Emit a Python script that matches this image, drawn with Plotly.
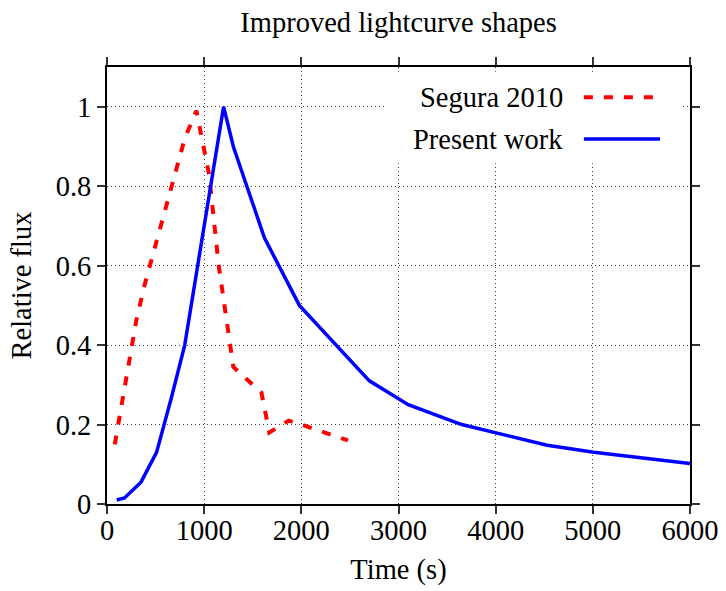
import plotly.graph_objects as go

# Data
segura_time = [80, 300, 380, 650, 800, 920, 1050, 1150, 1300, 1590, 1670, 1870, 2000, 2480]
segura_flux = [0.15, 0.46, 0.545, 0.79, 0.92, 0.99, 0.83, 0.60, 0.345, 0.28, 0.18, 0.21, 0.20, 0.16]

present_time = [100, 180, 350, 510, 660, 800, 1200, 1300, 1620, 1980, 2700, 3100, 3650, 4530, 5010, 6000]
present_flux = [0.01, 0.015, 0.055, 0.13, 0.265, 0.40, 1.0, 0.90, 0.67, 0.50, 0.31, 0.25, 0.20, 0.148, 0.13, 0.102]

series_names = ["Segura 2010", "Present work"]
x_ticks = [0, 1000, 2000, 3000, 4000, 5000, 6000]
y_ticks = [0, 0.2, 0.4, 0.6, 0.8, 1.0]
y_tick_labels = ["0", "0.2", "0.4", "0.6", "0.8", "1"]

FONT = "Liberation Serif, Times New Roman, serif"
FS = 28.5

fig = go.Figure()
fig.add_trace(go.Scatter(x=segura_time, y=segura_flux, mode="lines", name=series_names[0],
                         line=dict(color="#ff0000", width=4, dash="9px,11px"), showlegend=False))
fig.add_trace(go.Scatter(x=present_time, y=present_flux, mode="lines", name=series_names[1],
                         line=dict(color="#0000ff", width=3.5), showlegend=False))

axis_common = dict(showline=True, linecolor="black", linewidth=2, mirror="ticks",
                   ticks="outside", ticklen=8, tickwidth=1.5, tickcolor="#333",
                   showgrid=True, gridcolor="rgba(0,0,0,0.75)", griddash="1px,3px", gridwidth=1,
                   zeroline=False, automargin=False,
                   tickfont=dict(family=FONT, size=FS, color="black"))

fig.update_xaxes(range=[0, 6000], tickvals=x_ticks, tickformat="d", ticklabelstandoff=-8,
                 title=dict(text="Time (s)", font=dict(family=FONT, size=FS, color="black"), standoff=14),
                 **axis_common)
fig.update_yaxes(range=[0, 1.1], tickvals=y_ticks, ticktext=y_tick_labels,
                 title=dict(text="Relative flux", font=dict(family=FONT, size=FS, color="black"), standoff=16),
                 **axis_common)

# Key box (opaque, hides the grid like gnuplot's key)
fig.add_shape(type="rect", xref="paper", yref="paper", x0=0.477, x1=0.983, y0=0.78, y1=0.989,
              fillcolor="white", line=dict(width=0), layer="above")
key_y = [0.931, 0.835]
key_styles = [dict(color="#ff0000", width=4, dash="9px,11px"), dict(color="#0000ff", width=3.5)]
for name, ky, st in zip(series_names, key_y, key_styles):
    fig.add_shape(type="line", xref="paper", yref="paper", x0=0.818, x1=0.9485, y0=ky, y1=ky,
                  line=st, layer="above")
    fig.add_annotation(xref="paper", yref="paper", x=0.786, y=ky, text=name, showarrow=False,
                       xanchor="right", yanchor="middle",
                       font=dict(family=FONT, size=FS, color="black"))

fig.update_layout(
    width=726, height=591,
    margin=dict(l=107, r=36, t=67, b=87),
    paper_bgcolor="white", plot_bgcolor="white",
    title=dict(text="Improved lightcurve shapes", x=0.549, xanchor="center", y=0.963, yanchor="middle",
               font=dict(family=FONT, size=FS, color="black")),
    showlegend=False,
)

fig.write_html("out.html")
